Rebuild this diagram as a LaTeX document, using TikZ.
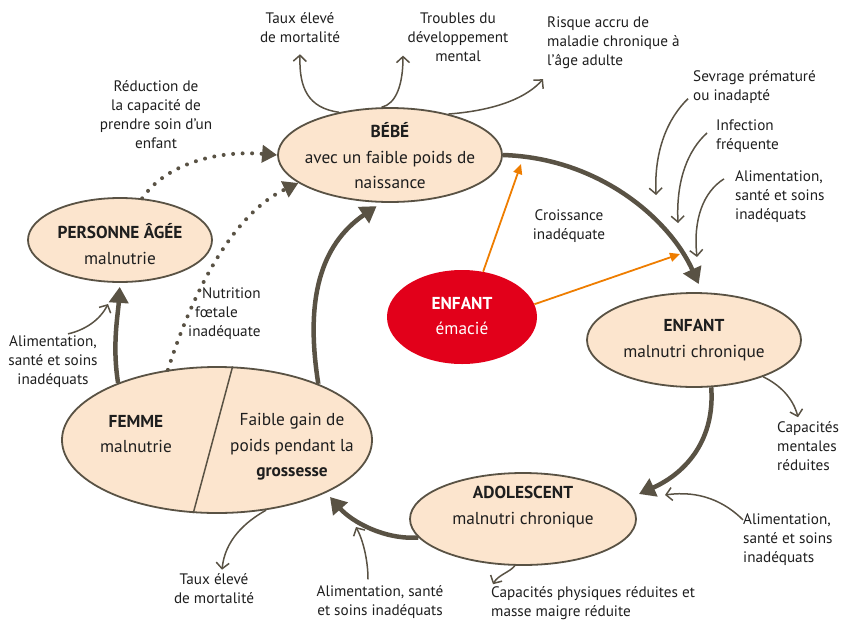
\documentclass[tikz,border=0pt]{standalone}
\usepackage{fontspec}
\setmainfont{PT Sans}
\usetikzlibrary{arrows.meta,shapes.geometric}
\definecolor{dk}{RGB}{89,82,68}
\definecolor{peach}{RGB}{252,229,206}
\definecolor{rd}{RGB}{226,0,26}
\definecolor{org}{RGB}{238,125,0}
\definecolor{txt}{RGB}{30,30,30}
\begin{document}
\begin{tikzpicture}[x=1pt,y=-1pt,
  ell/.style={ellipse, draw=dk, line width=1.8pt, fill=peach, inner sep=0pt},
  ntext/.style={align=center, font=\fontsize{17.3}{25.5}\selectfont, text=txt, inner sep=0pt},
  lab/.style={align=center, font=\fontsize{15.2}{19}\selectfont, text=txt, inner sep=0pt},
  labl/.style={lab, align=left, anchor=west},
  bigarr/.style={draw=dk, line width=4.5pt, -{Triangle[length=16pt,width=19pt]}},
  dotarr/.style={draw=dk, line width=4pt, line cap=round, dash pattern=on 0pt off 9.5pt, -{Triangle[length=15pt,width=17pt]}},
  thinarr/.style={draw=dk, line width=1.5pt, -{Straight Barb[length=6pt,width=13pt]}},
  orarr/.style={draw=org, line width=1.8pt, -{Triangle[length=10pt,width=9pt]}}
]
\useasboundingbox (0,0) rectangle (843,619);

% ellipses
\node[ell, minimum width=224pt, minimum height=94pt] (bebe) at (390,155) {};
\node[ell, minimum width=184pt, minimum height=84pt] (pers) at (120,240) {};
\node[ellipse, fill=rd, inner sep=0pt, minimum width=150pt, minimum height=94pt] (red) at (462,317) {};
\node[ell, minimum width=214pt, minimum height=94pt] (enf2) at (694,340) {};
\node[ell, minimum width=226pt, minimum height=92pt] (adol) at (523,519) {};
\node[ell, minimum width=310pt, minimum height=146pt] (fem) at (217,440) {};
\draw[dk, line width=1.5pt] (fem.78) -- (fem.-108);

% ellipse texts
\node[ntext] (bebeT) at (390,156) {\textbf{BÉBÉ}\\avec un faible poids de\\naissance};
\node[ntext] (persT) at (120,244) {\textbf{PERSONNE ÂGÉE}\\malnutrie};
\node[ntext, text=white] (redT) at (462,316) {\textbf{ENFANT}\\émacié};
\node[ntext] (enf2T) at (694,340) {\textbf{ENFANT}\\malnutri chronique};
\node[ntext] (adolT) at (523,507) {\textbf{ADOLESCENT}\\malnutri chronique};
\node[ntext] (femL) at (136,434) {\textbf{FEMME}\\malnutrie};
\node[ntext] (femR) at (292,447) {Faible gain de\\poids pendant la\\\textbf{grossesse}};

% labels
\node[lab] (taux1) at (300,28) {Taux élevé\\de mortalité};
\node[lab] (troub) at (458,37) {Troubles du\\développement\\mental};
\node[labl] (risq) at (547,43) {Risque accru de\\maladie chronique à\\l’âge adulte};
\node[labl] (sev) at (693,87) {Sevrage prématuré\\ou inadapté};
\node[labl] (inf) at (716,136) {Infection\\fréquente};
\node[labl] (ali1) at (735,197) {Alimentation,\\santé et soins\\inadéquats};
\node[lab] (croi) at (569,226) {Croissance\\inadéquate};
\node[lab] (reduc) at (156,115) {Réduction de\\la capacité de\\prendre soin d’un\\enfant};
\node[labl] (nutri) at (188,314) {\hspace*{14pt}Nutrition\\\hspace*{7pt}fœtale\\inadéquate};
\node[lab] (ali2) at (53,362) {Alimentation,\\santé et soins\\inadéquats};
\node[labl] (capm) at (777,446) {Capacités\\mentales\\réduites};
\node[labl] (ali3) at (743,540) {Alimentation,\\santé et soins\\inadéquats};
\node[labl] (capp) at (491,603) {Capacités physiques réduites et\\masse maigre réduite};
\node[lab] (taux2) at (214,589) {Taux élevé\\de mortalité};
\node[lab] (ali4) at (380,602) {Alimentation, santé\\et soins inadéquats};

% free ends
\coordinate (ts1) at (656,195);
\coordinate (ts2) at (678,223);
\coordinate (ts3) at (697,257);
\coordinate (ts4) at (108,304);
\coordinate (ts6) at (665,495);
\coordinate (ts9) at (356,527);
\coordinate (t2) at (639,494);
\coordinate (t3) at (330,497);
\coordinate (o1) at (521,164);
\coordinate (o2) at (680,254);

% main cycle
\draw[bigarr, shorten >=9pt] (bebe.east) .. controls (600,158) and (670,220) .. (enf2.80);
\draw[bigarr] (enf2.-70) .. controls (715,438) and (688,472) .. (t2);
\draw[bigarr] (adol.190) .. controls (385,540) and (352,522) .. (t3);
\draw[bigarr, shorten >=6pt] (fem.29) .. controls (305,300) and (320,245) .. (bebe.-100);
\draw[bigarr, shorten >=4pt] (fem.150) .. controls (112,345) and (118,315) .. (pers.south);

% dotted
\draw[dotarr] (pers.62) .. controls (165,165) and (215,150) .. (bebe.west);
\draw[dotarr] (fem.125) .. controls (190,300) and (230,215) .. (bebe.197);

% orange
\draw[orarr] (red.65) -- (o1);
\draw[orarr] (red.10) -- (o2);

% thin arrows
\draw[thinarr] (bebe.140) .. controls (308,108) and (299,88) .. ([yshift=-11pt]taux1.south);
\draw[thinarr] (bebe.100) .. controls (396,104) and (403,85) .. ([xshift=-55pt,yshift=6pt]troub.south);
\draw[thinarr] (bebe.35) .. controls (500,110) and (528,96) .. ([xshift=-4pt,yshift=-10pt]risq.south west);
\draw[thinarr] ([xshift=-5pt,yshift=5pt]sev.south west) .. controls (668,118) and (654,150) .. (ts1);
\draw[thinarr] ([xshift=-9pt,yshift=3pt]inf.west) .. controls (688,150) and (676,180) .. (ts2);
\draw[thinarr] ([xshift=-11pt,yshift=-8pt]ali1.north west) .. controls (703,192) and (693,220) .. (ts3);
\draw[thinarr] ([xshift=15pt,yshift=2pt]ali2.north) .. controls (85,330) and (100,320) .. (ts4);
\draw[thinarr] (enf2.-28) .. controls (780,385) and (793,398) .. ([xshift=21pt,yshift=4pt]capm.north west);
\draw[thinarr] ([yshift=-6pt]ali3.north west) .. controls (725,502) and (700,490) .. (ts6);
\draw[thinarr] (adol.-100) .. controls (510,572) and (498,575) .. ([xshift=2pt,yshift=2pt]capp.north west);
\draw[thinarr] (fem.-55) .. controls (245,522) and (225,540) .. ([xshift=8pt,yshift=4pt]taux2.north);
\draw[thinarr] ([xshift=-12pt,yshift=6pt]ali4.north) .. controls (368,560) and (363,540) .. (ts9);
\end{tikzpicture}
\end{document}
